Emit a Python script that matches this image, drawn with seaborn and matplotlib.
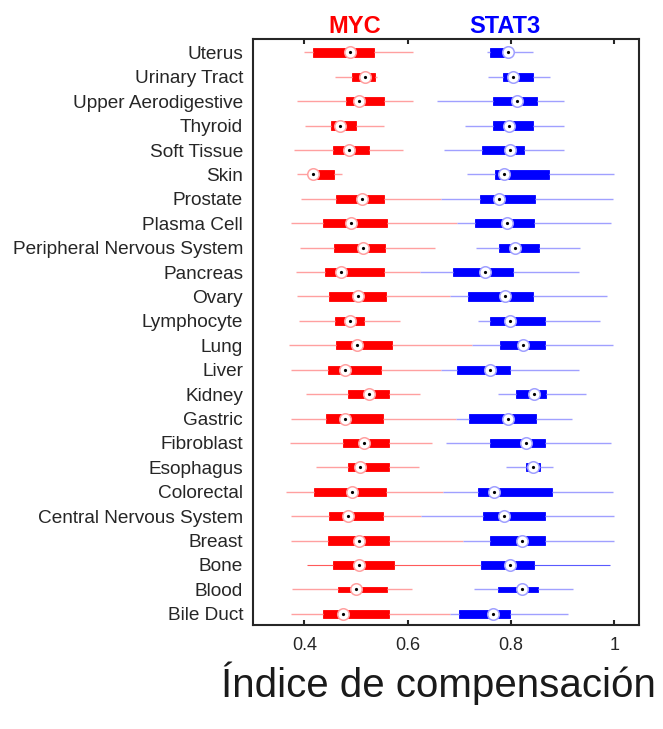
import numpy as np
import pandas as pd
import matplotlib
matplotlib.use("Agg")
import matplotlib.pyplot as plt
import seaborn as sns

tissues = ["Uterus", "Urinary Tract", "Upper Aerodigestive", "Thyroid", "Soft Tissue",
           "Skin", "Prostate", "Plasma Cell", "Peripheral Nervous System", "Pancreas",
           "Ovary", "Lymphocyte", "Lung", "Liver", "Kidney", "Gastric", "Fibroblast",
           "Esophagus", "Colorectal", "Central Nervous System", "Breast", "Bone",
           "Blood", "Bile Duct"]

myc_lo  = [0.400, 0.459, 0.385, 0.401, 0.379, 0.385, 0.394, 0.374, 0.392, 0.383, 0.385, 0.390,
           0.370, 0.374, 0.403, 0.375, 0.372, 0.423, 0.365, 0.375, 0.375, 0.406, 0.376, 0.374]
myc_q1  = [0.417, 0.492, 0.480, 0.452, 0.455, 0.410, 0.461, 0.436, 0.457, 0.439, 0.447, 0.459,
           0.461, 0.446, 0.484, 0.442, 0.475, 0.485, 0.418, 0.448, 0.445, 0.455, 0.466, 0.437]
myc_med = [0.488, 0.517, 0.505, 0.468, 0.486, 0.417, 0.512, 0.490, 0.514, 0.471, 0.503, 0.489,
           0.501, 0.478, 0.526, 0.478, 0.515, 0.508, 0.492, 0.484, 0.505, 0.505, 0.500, 0.474]
myc_q3  = [0.535, 0.537, 0.554, 0.500, 0.526, 0.458, 0.554, 0.559, 0.557, 0.555, 0.558, 0.515,
           0.569, 0.548, 0.563, 0.553, 0.563, 0.563, 0.558, 0.553, 0.563, 0.573, 0.559, 0.563]
myc_hi  = [0.611, 0.540, 0.611, 0.555, 0.590, 0.472, 0.664, 0.695, 0.653, 0.624, 0.682, 0.585,
           0.724, 0.664, 0.623, 0.694, 0.647, 0.621, 0.669, 0.626, 0.708, 0.740, 0.609, 0.681]

stat3_lo  = [0.753, 0.756, 0.656, 0.711, 0.670, 0.714, 0.664, 0.695, 0.732, 0.624, 0.682, 0.737,
             0.724, 0.664, 0.775, 0.694, 0.675, 0.790, 0.669, 0.626, 0.708, 0.740, 0.729, 0.681]
stat3_q1  = [0.759, 0.784, 0.766, 0.765, 0.743, 0.769, 0.740, 0.731, 0.777, 0.688, 0.716, 0.760,
             0.779, 0.695, 0.810, 0.719, 0.759, 0.830, 0.736, 0.745, 0.760, 0.741, 0.775, 0.699]
stat3_med = [0.795, 0.803, 0.812, 0.797, 0.798, 0.787, 0.777, 0.792, 0.808, 0.750, 0.789, 0.799,
             0.823, 0.759, 0.845, 0.795, 0.829, 0.842, 0.768, 0.787, 0.821, 0.799, 0.821, 0.766]
stat3_q3  = [0.800, 0.842, 0.850, 0.842, 0.825, 0.874, 0.846, 0.845, 0.855, 0.803, 0.842, 0.865,
             0.866, 0.798, 0.868, 0.849, 0.866, 0.857, 0.879, 0.865, 0.865, 0.845, 0.852, 0.798]
stat3_hi  = [0.843, 0.875, 0.903, 0.903, 0.903, 0.999, 0.997, 0.994, 0.934, 0.932, 0.985, 0.972,
             0.997, 0.932, 0.946, 0.919, 0.993, 0.882, 0.998, 0.999, 0.999, 0.991, 0.921, 0.910]

x_ticks = [0.4, 0.6, 0.8, 1.0]
x_tick_labels = ["0.4", "0.6", "0.8", "1"]
genes = ["MYC", "STAT3"]
xlabel = "Índice de compensación"

sns.set_theme(style="white")
plt.rcParams['font.family'] = ['Liberation Sans', 'DejaVu Sans']


def long_frame(lo, q1, med, q3, hi):
    rows = []
    for t, a, b, c, d, e in zip(tissues, lo, q1, med, q3, hi):
        for v in (a, b, c, d, e):
            rows.append((t, v))
    return pd.DataFrame(rows, columns=["tissue", "value"])


series = [
    ("MYC", long_frame(myc_lo, myc_q1, myc_med, myc_q3, myc_hi), myc_med,
     "#ff0000", "#ffa0a0", "#ff5a5a"),
    ("STAT3", long_frame(stat3_lo, stat3_q1, stat3_med, stat3_q3, stat3_hi), stat3_med,
     "#0000ff", "#a0a0ff", "#5a5aff"),
]

# row-specific styling seen in the reference
thin_box_rows = ["Blood"]
dark_whisker_rows = ["Bone"]

fig = plt.figure(figsize=(6.63, 7.29), dpi=100)
ax = fig.add_axes([0.3812, 0.1427, 0.5827, 0.8038])

for name, frame, med, color, light, dark in series:
    special = thin_box_rows + dark_whisker_rows
    groups = [
        (frame[~frame["tissue"].isin(special)], 0.34, light, 1.0),
        (frame[frame["tissue"].isin(thin_box_rows)], 0.2, light, 1.0),
        (frame[frame["tissue"].isin(dark_whisker_rows)], 0.34, dark, 0.8),
    ]
    for sub, w, wcol, wlw in groups:
        sns.boxplot(data=sub, x="value", y="tissue", order=tissues, color=color,
                    saturation=1, width=w, whis=(0, 100), showcaps=False,
                    linewidth=0.6, linecolor=color, fliersize=0,
                    boxprops=dict(edgecolor=color, facecolor=color, linewidth=0.6),
                    whiskerprops=dict(color=wcol, linewidth=wlw),
                    medianprops=dict(visible=False), ax=ax)

for name, frame, med, color, light, dark in series:
    mdf = pd.DataFrame({"tissue": tissues, "value": med})
    sns.pointplot(data=mdf, x="value", y="tissue", order=tissues, color=light,
                  linestyle="none", marker="o", markersize=8.3,
                  markerfacecolor="white", markeredgecolor=light, markeredgewidth=1.1,
                  errorbar=None, zorder=5, ax=ax)
    sns.pointplot(data=mdf, x="value", y="tissue", order=tissues, color="black",
                  linestyle="none", marker="o", markersize=2.3,
                  markeredgewidth=0, errorbar=None, zorder=6, ax=ax)

ax.set_xlim(0.3, 1.048)
ax.set_ylim(23.46, -0.55)
ax.set_xticks(x_ticks)
ax.set_xticklabels(x_tick_labels)
ax.set_xlabel("")
ax.set_ylabel("")
ax.tick_params(axis="x", direction="in", top=True, bottom=True, length=3.6, width=1.5,
               pad=9, labelsize=13, labelcolor="#262626", color="#262626")
ax.tick_params(axis="y", length=0, pad=7, labelsize=13.7, labelcolor="#262626")
for s in ax.spines.values():
    s.set_visible(True)
    s.set_linewidth(1.5)
    s.set_color("#262626")

tr = ax.get_xaxis_transform()
ax.text(0.497, 1.0102, genes[0], transform=tr, ha="center", va="baseline",
        fontsize=17, fontweight="bold", color="#ff0000")
ax.text(0.788, 1.0102, genes[1], transform=tr, ha="center", va="baseline",
        fontsize=17, fontweight="bold", color="#0000ff")

fig.text(0.661, 0.044, xlabel, ha="center", va="baseline", fontsize=29, color="#1a1a1a")

fig.savefig("out.png", dpi=100)
